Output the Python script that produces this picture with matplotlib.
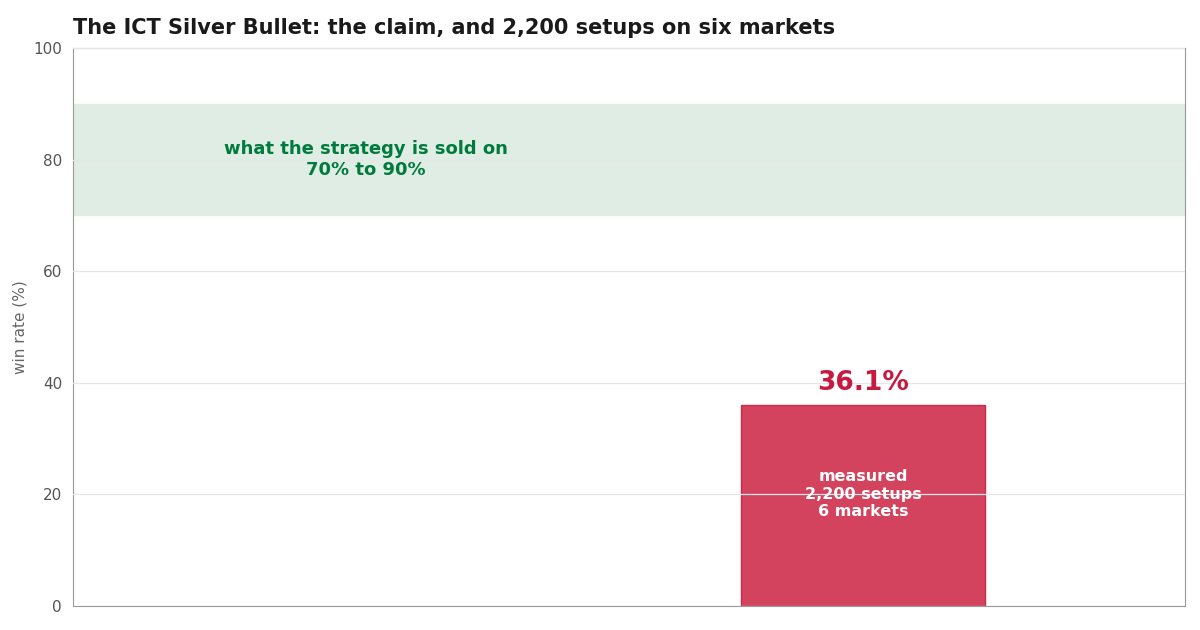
import matplotlib
matplotlib.use("Agg")
import matplotlib.pyplot as plt

claim_low, claim_high = 70, 90
categories = ["claimed", "measured"]
measured_rate = 36.1
measured_label = "measured\n2,200 setups\n6 markets"

fig = plt.figure(figsize=(12, 6.3), dpi=100)
ax = fig.add_axes([0.061, 0.038, 0.9265, 0.886])

ax.axhspan(claim_low, claim_high, color="#dfede5", zorder=0)
ax.text(0, 80, "what the strategy is sold on\n70% to 90%", ha="center", va="center",
        color="#007a3d", fontsize=13, fontweight="bold", linespacing=1.2)

ax.bar(1, measured_rate, width=0.49, color="#d4435e", edgecolor="#cc2a4a", linewidth=1, zorder=2)
ax.text(1, measured_rate + 1.5, f"{measured_rate}%", ha="center", va="bottom",
        color="#c81a40", fontsize=19, fontweight="bold")
ax.text(1, measured_rate / 2 + 2, measured_label, ha="center", va="center",
        color="white", fontsize=11.5, fontweight="bold", zorder=4)

ax.set_xlim(-0.589, 1.648)
ax.set_ylim(0, 100)
ax.set_xticks([])
ax.set_yticks([0, 20, 40, 60, 80, 100])
ax.grid(axis="y", color="#e6e6e6", linewidth=0.9, zorder=3)
ax.set_axisbelow(False)
ax.tick_params(axis="y", colors="#555555", labelsize=11, length=0, pad=8)
for s in ax.spines.values():
    s.set_color("#999999")
ax.set_ylabel("win rate (%)", color="#666666", fontsize=11)
ax.set_title("The ICT Silver Bullet: the claim, and 2,200 setups on six markets",
             loc="left", fontsize=15, fontweight="bold", color="#1a1a1a", pad=10)

fig.savefig("out.png", dpi=100)
